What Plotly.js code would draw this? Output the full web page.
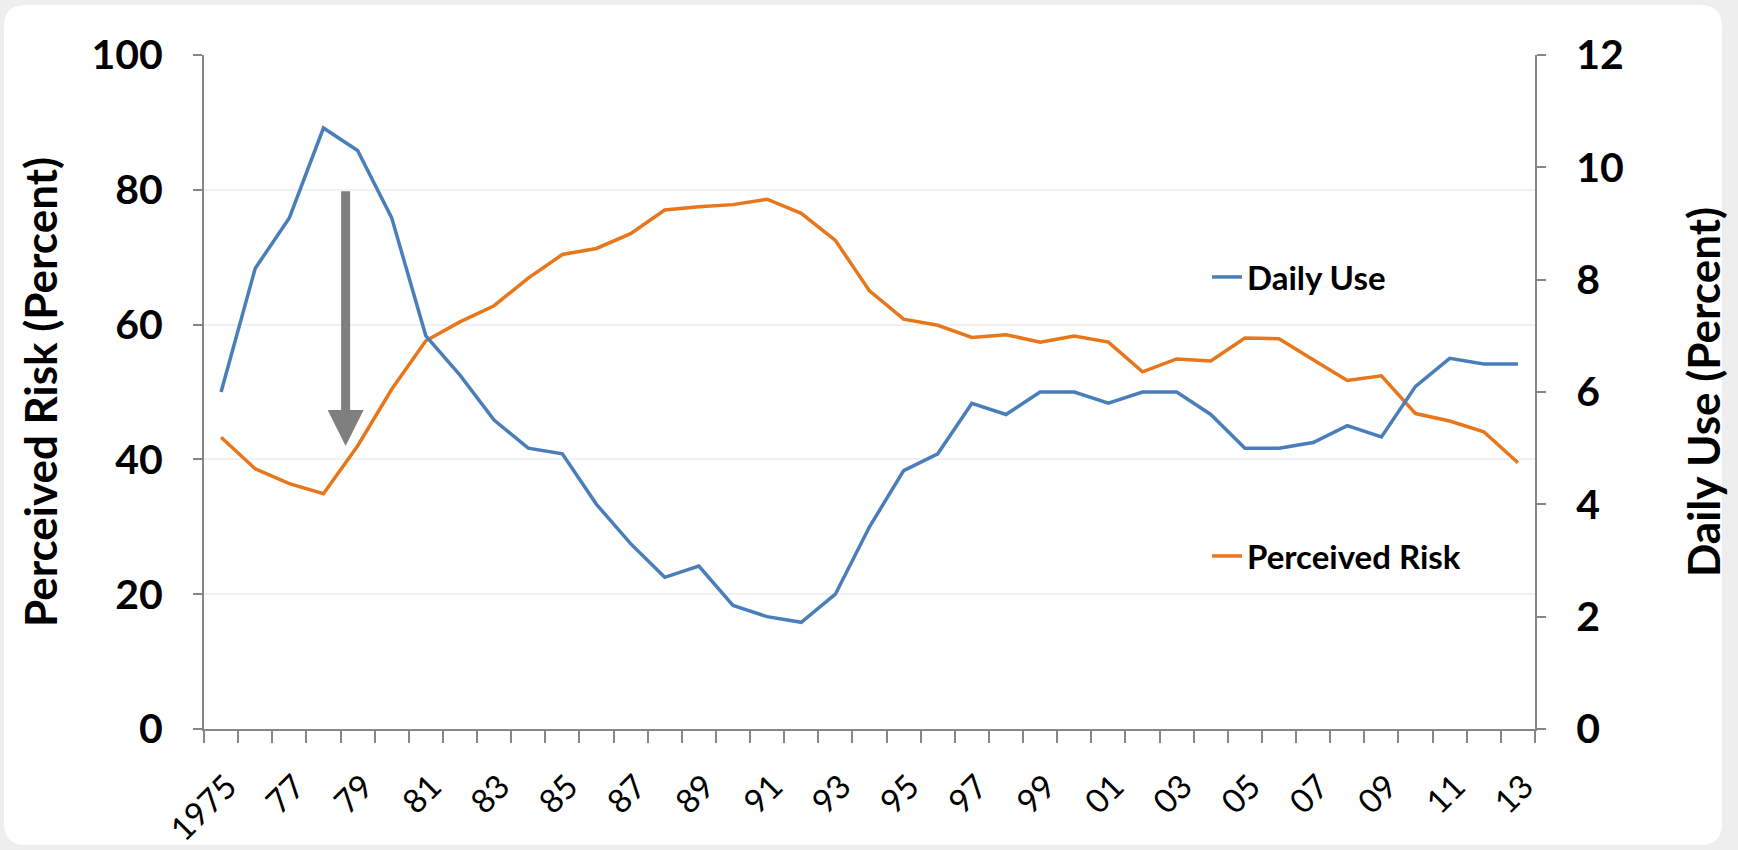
<!DOCTYPE html>
<html>
<head>
<meta charset="utf-8">
<script src="https://cdn.plot.ly/plotly-3.0.1.min.js"></script>
<style>html,body{margin:0;padding:0;background:#eeeeee;} #chart{width:1738px;height:850px;}</style>
</head>
<body>
<div id="chart"></div>
<script>
const years = [1975,1976,1977,1978,1979,1980,1981,1982,1983,1984,1985,1986,1987,1988,1989,1990,1991,1992,1993,1994,1995,1996,1997,1998,1999,2000,2001,2002,2003,2004,2005,2006,2007,2008,2009,2010,2011,2012,2013];
const dailyUse = [6.0,8.2,9.1,10.7,10.3,9.1,7.0,6.3,5.5,5.0,4.9,4.0,3.3,2.7,2.9,2.2,2.0,1.9,2.4,3.6,4.6,4.9,5.8,5.6,6.0,6.0,5.8,6.0,6.0,5.6,5.0,5.0,5.1,5.4,5.2,6.1,6.6,6.5,6.5];
const perceivedRisk = [43.3,38.6,36.4,34.9,42.0,50.4,57.6,60.4,62.8,66.9,70.4,71.3,73.5,77.0,77.5,77.8,78.6,76.5,72.5,65.0,60.8,59.9,58.1,58.5,57.4,58.3,57.4,53.0,54.9,54.6,58.0,57.9,54.8,51.7,52.4,46.8,45.7,44.1,39.5];
const tickYears = [1975,1977,1979,1981,1983,1985,1987,1989,1991,1993,1995,1997,1999,2001,2003,2005,2007,2009,2011,2013];
const tickLabels = ['1975','77','79','81','83','85','87','89','91','93','95','97','99','01','03','05','07','09','11','13'];

const W = 1738, H = 850;
const M = {l:204, r:203, t:55, b:121};
const pw = W - M.l - M.r, ph = H - M.t - M.b;
const px = x => (x - M.l) / pw;
const py = y => (H - M.b - y) / ph;

// rounded white card behind the chart
const x0 = px(4), x1 = px(1722), y0 = py(845), y1 = py(5);
const rx = 22 / pw, ry = 22 / ph;
const card = `M${x0+rx},${y1} L${x1-rx},${y1} Q${x1},${y1} ${x1},${y1-ry} L${x1},${y0+ry} Q${x1},${y0} ${x1-rx},${y0} L${x0+rx},${y0} Q${x0},${y0} ${x0},${y0+ry} L${x0},${y1-ry} Q${x0},${y1} ${x0+rx},${y1} Z`;

const axisGray = '#868686';
const fontFam = 'Lato, "Open Sans", sans-serif';

const traces = [
  {x: years, y: dailyUse, name: 'Daily Use', type: 'scatter', mode: 'lines', yaxis: 'y2',
   line: {color: '#4A7EBB', width: 3.5}, legend: 'legend'},
  {x: years, y: perceivedRisk, name: 'Perceived Risk', type: 'scatter', mode: 'lines', yaxis: 'y',
   line: {color: '#E8761B', width: 3.5}, legend: 'legend2'}
];

const legFont = {size: 33, weight: 'bold', family: fontFam};

const layout = {
  width: W, height: H,
  margin: M,
  paper_bgcolor: '#eeeeee',
  plot_bgcolor: 'rgba(0,0,0,0)',
  font: {family: fontFam, color: '#000'},
  showlegend: true,
  legend: {x: px(1207), y: py(277), xanchor: 'left', yanchor: 'middle', bgcolor: 'rgba(0,0,0,0)', font: legFont},
  legend2: {x: px(1207), y: py(556), xanchor: 'left', yanchor: 'middle', bgcolor: 'rgba(0,0,0,0)', font: legFont},
  xaxis: {
    range: [1974.5, 2013.5], tickmode: 'array', tickvals: tickYears, ticktext: tickLabels,
    tickangle: -45, tickfont: {size: 33, family: fontFam}, ticks: '', ticklabelstandoff: 23, ticklabelshift: 6,
    showline: true, linecolor: axisGray, linewidth: 2, showgrid: false, zeroline: false,
    minor: {ticks: 'outside', tick0: 1974.5, dtick: 1, ticklen: 12, tickwidth: 2, tickcolor: axisGray, showgrid: false}
  },
  yaxis: {
    range: [0, 100], dtick: 20, ticks: 'outside', ticklen: 9, tickwidth: 2, tickcolor: axisGray,
    showline: true, linecolor: axisGray, linewidth: 2, gridcolor: '#f1f1f1', gridwidth: 2, zeroline: false,
    tickfont: {size: 41, weight: 'bold', family: fontFam}, ticklabelstandoff: 22,
    title: {text: 'Perceived Risk (Percent)', font: {size: 44, weight: 'bold', family: fontFam}, standoff: 20}
  },
  yaxis2: {
    range: [0, 12], dtick: 2, overlaying: 'y', side: 'right', ticks: 'outside', ticklen: 9, tickwidth: 2,
    tickcolor: axisGray, showline: true, linecolor: axisGray, linewidth: 2, showgrid: false, zeroline: false,
    tickfont: {size: 41, weight: 'bold', family: fontFam}, ticklabelstandoff: 22,
    title: {text: 'Daily Use (Percent)', font: {size: 44, weight: 'bold', family: fontFam}, standoff: 66}
  },
  shapes: [
    {type: 'path', xref: 'paper', yref: 'paper', path: card, fillcolor: '#ffffff', line: {width: 0}, layer: 'below'}
  ],
  annotations: [
    {x: 1978.65, y: 42, xref: 'x', yref: 'y', ax: 1978.65, ay: 80, axref: 'x', ayref: 'y',
     text: '', showarrow: true, arrowhead: 2, arrowsize: 0.8, arrowwidth: 9, arrowcolor: '#7f7f7f'}
  ]
};

Plotly.newPlot('chart', traces, layout, {displayModeBar: false, staticPlot: true});
</script>
</body>
</html>
